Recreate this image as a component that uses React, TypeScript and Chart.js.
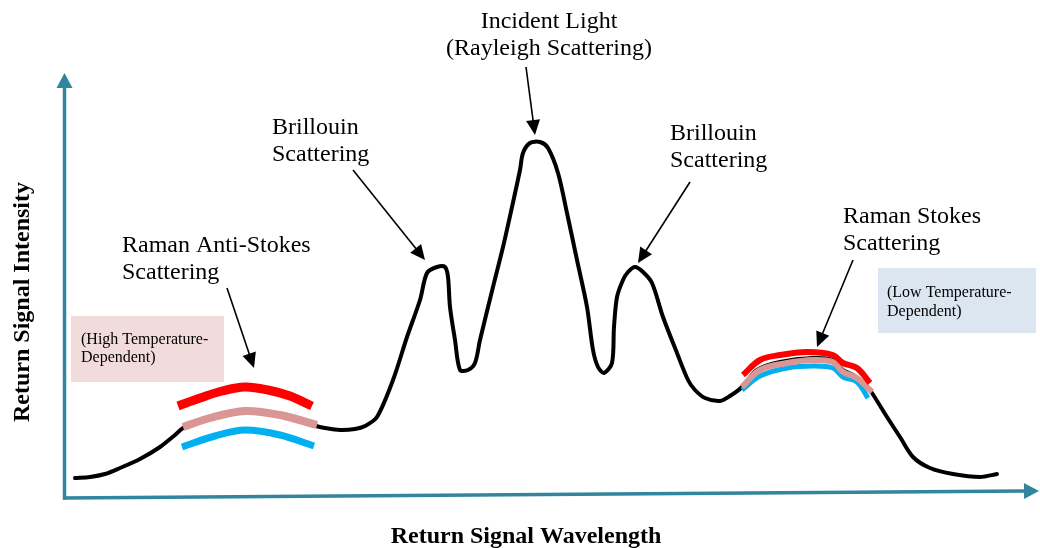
import React, { useEffect, useRef } from "react";
import { Chart, registerables } from "chart.js";

Chart.register(...registerables);

// ---- Data (arbitrary wavelength / intensity units) ----
const wavelength = [
  1.2, 2.7, 4.2, 5.7, 7.7, 9.7, 11.2, 12.0, 13.7, 15.2, 16.7, 18.2, 19.9, 21.7, 23.5, 25.3, 26.2, 27.7, 29.2, 30.2,
  31.4, 33.0, 34.4, 35.7, 36.4, 37.4, 38.2, 38.5, 38.7, 39.2, 39.7, 40.5, 41.2, 41.7, 43.0, 44.0, 44.9, 45.7, 46.0,
  46.7, 47.7, 48.5, 49.5, 50.4, 51.4, 52.4, 53.0, 53.5, 54.1, 54.9, 55.1, 55.4, 56.0, 56.5, 57.2, 58.0, 58.9, 60.0,
  61.4, 62.5, 63.2, 64.2, 65.7, 66.7, 67.9, 69.4, 71.7, 75.0, 77.0, 78.0, 79.0, 80.4, 80.9, 82.4, 83.7, 85.0, 86.7,
  89.0, 91.7, 93.4,
];
const intensity = [
  1.9, 2.0, 2.3, 2.9, 3.8, 5.0, 6.2, 6.9, 7.6, 8.1, 8.5, 8.6, 8.5, 8.1, 7.6, 7.1, 6.9, 6.7, 6.8, 7.1,
  8.0, 11.7, 16.0, 19.7, 22.4, 23.0, 23.0, 22.0, 19.0, 15.7, 12.7, 12.7, 13.4, 15.7, 21.0, 25.0, 29.0, 32.7, 34.4,
  35.4, 35.5, 34.9, 32.4, 28.4, 23.7, 19.0, 14.7, 13.0, 12.4, 13.4, 17.0, 20.0, 21.7, 22.5, 23.0, 22.5, 21.4, 18.0,
  14.4, 11.7, 10.7, 9.9, 9.6, 10.1, 11.0, 12.7, 13.5, 13.9, 13.7, 12.7, 12.2, 11.0, 10.4, 8.0, 6.0, 4.0, 2.9,
  2.3, 2.0, 2.3,
];

// Raman Anti-Stokes bands (left)
const antiStokesRedX = [11.5, 13.7, 15.9, 18.2, 20.5, 22.7, 24.9];
const antiStokesRedY = [9.1, 9.9, 10.6, 11.0, 10.7, 10.1, 9.1];
const antiStokesPinkX = [12.0, 14.7, 18.2, 21.7, 25.4];
const antiStokesPinkY = [7.0, 7.9, 8.6, 8.2, 7.2];
const antiStokesBlueX = [11.9, 15.2, 18.2, 21.7, 25.1];
const antiStokesBlueY = [5.0, 6.1, 6.7, 6.2, 5.1];

// Raman Stokes bands (right)
const stokesRedX = [68.0, 69.7, 71.7, 74.4, 77.0, 78.0, 79.4, 80.7];
const stokesRedY = [12.2, 13.7, 14.2, 14.5, 14.2, 13.4, 12.9, 11.4];
const stokesPinkX = [67.9, 69.7, 72.4, 75.0, 77.0, 78.0, 79.4, 80.9];
const stokesPinkY = [11.0, 12.7, 13.4, 13.7, 13.5, 12.5, 11.9, 10.5];
const stokesBlueX = [67.9, 69.7, 72.4, 75.0, 77.0, 78.0, 79.4, 80.5];
const stokesBlueY = [10.7, 12.1, 12.9, 13.1, 12.9, 12.0, 11.5, 9.9];

// Annotation labels
const labelTexts = [
  "Incident Light", "(Rayleigh Scattering)",
  "Brillouin", "Scattering",
  "Brillouin", "Scattering",
  "Raman Anti-Stokes", "Scattering",
  "Raman Stokes", "Scattering",
];
const labelX = [48.6, 48.6, 20.9, 20.9, 60.7, 60.7, 5.9, 5.9, 78.0, 78.0];
const labelY = [46.9, 44.2, 36.3, 33.6, 35.7, 33.0, 24.5, 21.8, 27.4, 24.7];
const labelAlign = ["center", "center", "left", "left", "left", "left", "left", "left", "left", "left"];

// Annotation arrows: start -> tip
const arrowFromX = [16.4, 29.0, 46.3, 62.7, 79.0];
const arrowFromY = [20.9, 32.7, 43.0, 31.5, 23.7];
const arrowToX = [19.1, 36.2, 47.2, 57.5, 75.4];
const arrowToY = [12.9, 23.7, 36.2, 23.4, 15.0];

// Note boxes
const boxTexts = [["(High Temperature-", "Dependent)"], ["(Low Temperature-", "Dependent)"]];
const boxX0 = [0.8, 81.5];
const boxX1 = [16.1, 97.3];
const boxY0 = [11.5, 16.4];
const boxY1 = [18.1, 22.9];
const boxTextX = [1.8, 82.4];
const boxTextY = [[15.3, 13.5], [20.0, 18.1]];
const boxColors = ["#F2DCDB", "#DCE6F1"];

// Axes
const xAxisTitle = "Return Signal Wavelength";
const yAxisTitle = "Return Signal Intensity";
const axisStart = [0.15, -0.1];
const yAxisTip = [0.15, 42.4];
const xAxisTip = [97.6, 0.6];

const X_MIN = -6.3;
const X_MAX = 97.7;
const Y_MIN = -5.1;
const Y_MAX = 49.7;

const AXIS_COLOR = "#31859C";
const SERIF = "'Liberation Serif', 'Times New Roman', serif";

const pts = (xs: number[], ys: number[]) => xs.map((x, i) => ({ x, y: ys[i] }));

function drawHead(ctx: CanvasRenderingContext2D, x0: number, y0: number, x1: number, y1: number, len: number, half: number) {
  const a = Math.atan2(y1 - y0, x1 - x0);
  const c = Math.cos(a), s = Math.sin(a);
  ctx.beginPath();
  ctx.moveTo(x1, y1);
  ctx.lineTo(x1 - len * c + half * s, y1 - len * s - half * c);
  ctx.lineTo(x1 - len * c - half * s, y1 - len * s + half * c);
  ctx.closePath();
  ctx.fill();
}

function drawArrow(ctx: CanvasRenderingContext2D, x0: number, y0: number, x1: number, y1: number, len: number, half: number, width: number, color: string) {
  const a = Math.atan2(y1 - y0, x1 - x0);
  ctx.save();
  ctx.strokeStyle = color;
  ctx.fillStyle = color;
  ctx.lineWidth = width;
  ctx.beginPath();
  ctx.moveTo(x0, y0);
  ctx.lineTo(x1 - (len - 1) * Math.cos(a), y1 - (len - 1) * Math.sin(a));
  ctx.stroke();
  drawHead(ctx, x0, y0, x1, y1, len, half);
  ctx.restore();
}

const decorPlugin = {
  id: "decor",
  beforeDatasetsDraw(chart: any) {
    const { ctx } = chart;
    const sx = chart.scales.x, sy = chart.scales.y;
    const px = (v: number) => sx.getPixelForValue(v);
    const py = (v: number) => sy.getPixelForValue(v);
    // boxes
    ctx.save();
    for (let i = 0; i < boxTexts.length; i++) {
      ctx.fillStyle = boxColors[i];
      const x0 = px(boxX0[i]), x1 = px(boxX1[i]);
      const y0 = py(boxY1[i]), y1 = py(boxY0[i]);
      ctx.fillRect(x0, y0, x1 - x0, y1 - y0);
    }
    ctx.restore();
    // axes
    const ox = px(axisStart[0]), oy = py(axisStart[1]);
    drawArrow(ctx, ox, oy + 1.5, px(yAxisTip[0]), py(yAxisTip[1]), 15, 8, 3.5, AXIS_COLOR);
    drawArrow(ctx, ox - 1.5, oy, px(xAxisTip[0]), py(xAxisTip[1]), 15, 8, 3.5, AXIS_COLOR);
  },
  afterDatasetsDraw(chart: any) {
    const { ctx } = chart;
    const sx = chart.scales.x, sy = chart.scales.y;
    const px = (v: number) => sx.getPixelForValue(v);
    const py = (v: number) => sy.getPixelForValue(v);
    // annotation arrows
    for (let i = 0; i < arrowFromX.length; i++) {
      drawArrow(ctx, px(arrowFromX[i]), py(arrowFromY[i]), px(arrowToX[i]), py(arrowToY[i]), 15, 7, 1.6, "#000000");
    }
    ctx.save();
    ctx.fillStyle = "#000000";
    ctx.textBaseline = "alphabetic";
    // labels
    ctx.font = `24px ${SERIF}`;
    for (let i = 0; i < labelTexts.length; i++) {
      ctx.textAlign = labelAlign[i] as CanvasTextAlign;
      ctx.fillText(labelTexts[i], px(labelX[i]), py(labelY[i]));
    }
    // box texts
    ctx.font = `16px ${SERIF}`;
    ctx.textAlign = "left";
    for (let i = 0; i < boxTexts.length; i++) {
      for (let j = 0; j < boxTexts[i].length; j++) {
        ctx.fillText(boxTexts[i][j], px(boxTextX[i]), py(boxTextY[i][j]));
      }
    }
    // axis titles
    ctx.font = `bold 24px ${SERIF}`;
    ctx.textAlign = "center";
    ctx.fillText(xAxisTitle, px(46.3), py(-4.6));
    ctx.save();
    ctx.translate(px(-3.4), py(19.5));
    ctx.rotate(-Math.PI / 2);
    ctx.fillText(yAxisTitle, 0, 0);
    ctx.restore();
    ctx.restore();
  },
};

export default function App() {
  const canvasRef = useRef<HTMLCanvasElement | null>(null);

  useEffect(() => {
    const canvas = canvasRef.current;
    if (!canvas) return;
    const band = (xs: number[], ys: number[], color: string, width: number) => ({
      data: pts(xs, ys),
      borderColor: color,
      backgroundColor: color,
      borderWidth: width,
      borderCapStyle: "butt" as const,
      tension: 0.35,
      pointRadius: 0,
      fill: false,
    });
    const chart = new Chart(canvas, {
      type: "line",
      data: {
        datasets: [
          band(antiStokesRedX, antiStokesRedY, "#FF0000", 9),
          band(antiStokesPinkX, antiStokesPinkY, "#D99694", 8),
          band(antiStokesBlueX, antiStokesBlueY, "#00B0F0", 7),
          band(stokesRedX, stokesRedY, "#FF0000", 6),
          band(stokesPinkX, stokesPinkY, "#D99694", 6),
          band(stokesBlueX, stokesBlueY, "#00B0F0", 5),
          {
            data: pts(wavelength, intensity),
            borderColor: "#000000",
            backgroundColor: "#000000",
            borderWidth: 4,
            borderCapStyle: "round" as const,
            borderJoinStyle: "round" as const,
            tension: 0.3,
            pointRadius: 0,
            fill: false,
          },
        ],
      },
      options: {
        animation: false,
        responsive: true,
        maintainAspectRatio: false,
        layout: { padding: 0 },
        plugins: { legend: { display: false }, tooltip: { enabled: false } },
        scales: {
          x: { type: "linear", min: X_MIN, max: X_MAX, display: false },
          y: { type: "linear", min: Y_MIN, max: Y_MAX, display: false },
        },
      },
      plugins: [decorPlugin],
    });
    return () => chart.destroy();
  }, []);

  return (
    <div style={{ position: "fixed", left: 0, top: 0, width: 1040, height: 548, background: "#ffffff" }}>
      <canvas ref={canvasRef} />
    </div>
  );
}
